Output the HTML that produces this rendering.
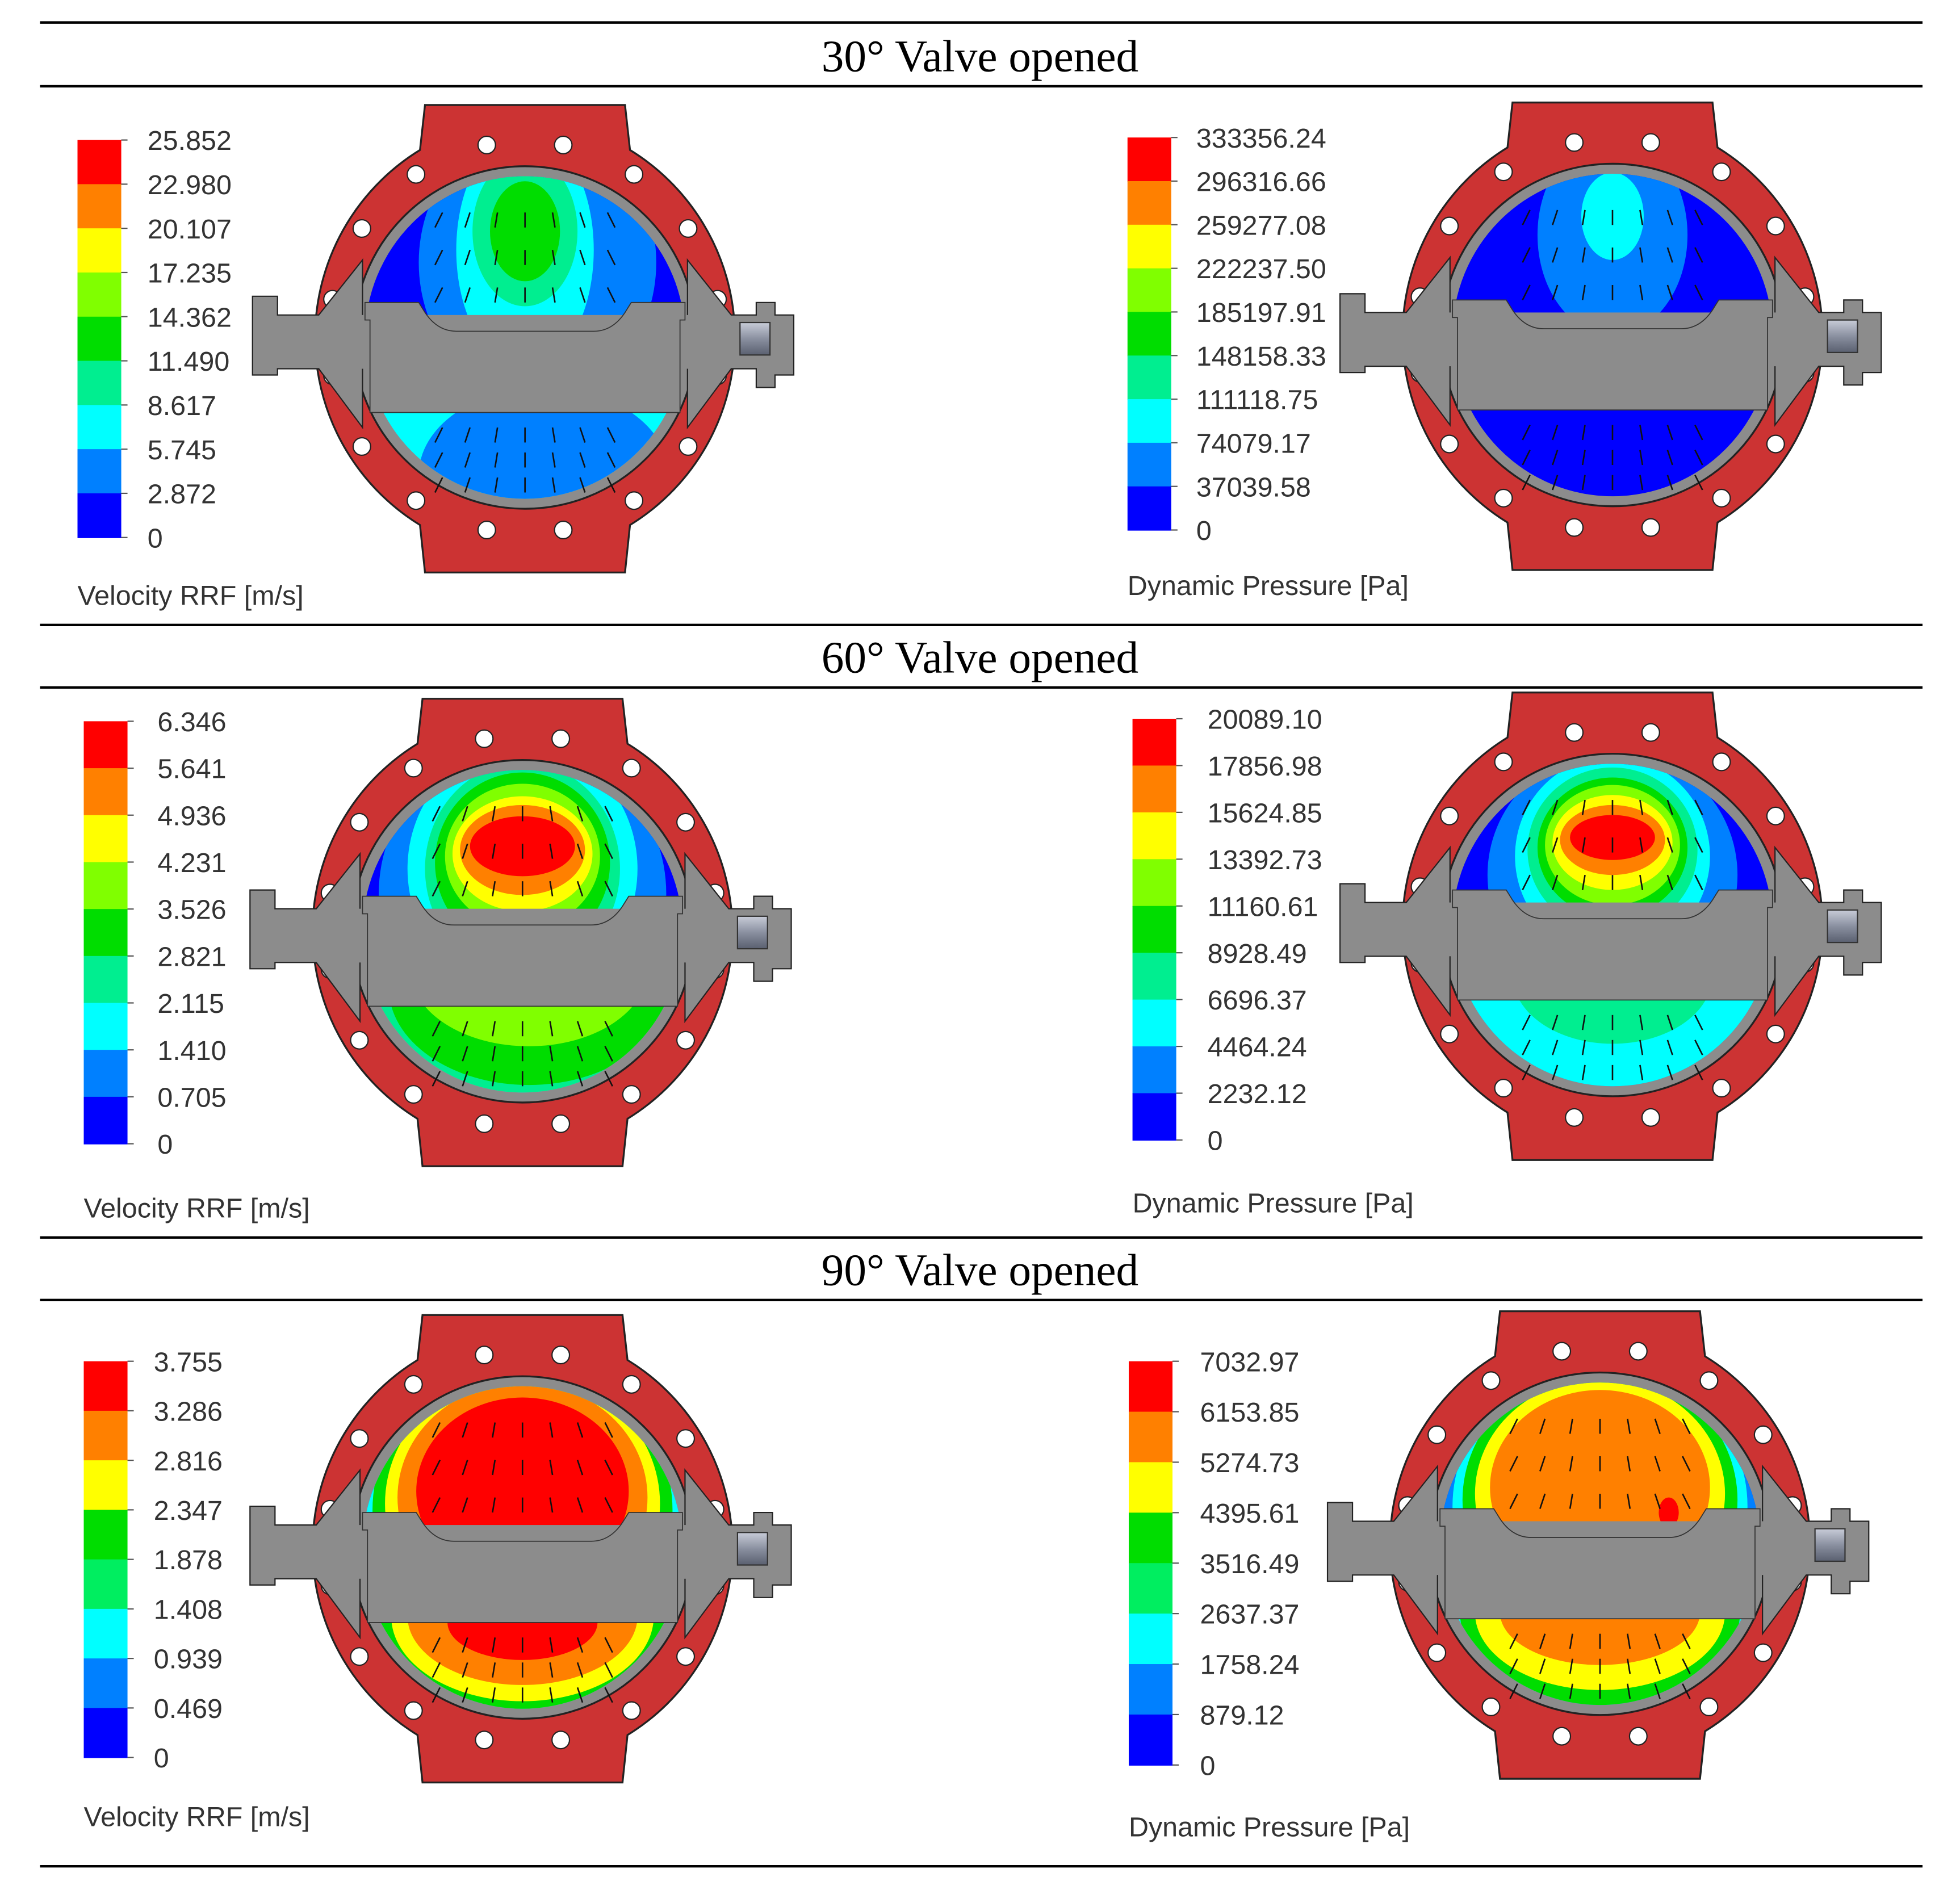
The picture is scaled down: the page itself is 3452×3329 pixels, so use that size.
<!DOCTYPE html>
<html><head><meta charset="utf-8">
<style>
html,body{margin:0;padding:0;background:#fff}
svg{display:block}
.t{font-family:"Liberation Serif",serif;font-size:36px;fill:#000}
.l{font-family:"Liberation Sans",sans-serif;font-size:22px;fill:#333}
</style></head>
<body>
<svg id="s" width="3452" height="3329" viewBox="0 0 1568 1512" preserveAspectRatio="none" xmlns="http://www.w3.org/2000/svg">
<defs>
<clipPath id="flowclip"><ellipse cx="0" cy="0" rx="128" ry="129"/></clipPath>
<clipPath id="topclip"><rect x="-140" y="-140" width="280" height="136"/></clipPath>
<clipPath id="botclip"><rect x="-140" y="58" width="280" height="90"/></clipPath>
<linearGradient id="cap" x1="0" x2="0" y1="0" y2="1"><stop offset="0" stop-color="#c8ccd8"/><stop offset="0.5" stop-color="#8a90a0"/><stop offset="1" stop-color="#5a6070"/></linearGradient>
</defs>
<g stroke="#000" stroke-width="2">
<line x1="32" y1="18" x2="1538" y2="18"/><line x1="32" y1="69" x2="1538" y2="69"/>
<line x1="32" y1="500" x2="1538" y2="500"/><line x1="32" y1="550" x2="1538" y2="550"/>
<line x1="32" y1="990" x2="1538" y2="990"/><line x1="32" y1="1040" x2="1538" y2="1040"/>
<line x1="32" y1="1493" x2="1538" y2="1493"/>
</g>
<text class="t" x="784" y="57" text-anchor="middle">30° Valve opened</text>
<text class="t" x="784" y="538" text-anchor="middle">60° Valve opened</text>
<text class="t" x="784" y="1028" text-anchor="middle">90° Valve opened</text>
</svg>
<script>
const bandColors9=["#ff0000","#ff8000","#ffff00","#80ff00","#00dd00","#00ee90","#00ffff","#0080ff","#0000ff"];
const bandColors8=["#ff0000","#ff8000","#ffff00","#00dd00","#00ee60","#00ffff","#0080ff","#0000ff"];
const v30=["25.852","22.980","20.107","17.235","14.362","11.490","8.617","5.745","2.872","0"];
const p30=["333356.24","296316.66","259277.08","222237.50","185197.91","148158.33","111118.75","74079.17","37039.58","0"];
const v60=["6.346","5.641","4.936","4.231","3.526","2.821","2.115","1.410","0.705","0"];
const p60=["20089.10","17856.98","15624.85","13392.73","11160.61","8928.49","6696.37","4464.24","2232.12","0"];
const v90=["3.755","3.286","2.816","2.347","1.878","1.408","0.939","0.469","0"];
const p90=["7032.97","6153.85","5274.73","4395.61","3516.49","2637.37","1758.24","879.12","0"];
const NS="http://www.w3.org/2000/svg";
const svg=document.getElementById('s');
function mk(tag,attrs,parent){const e=document.createElementNS(NS,tag);for(const k in attrs)e.setAttribute(k,attrs[k]);(parent||svg).appendChild(e);return e;}
const panels=[
 {name:'vel-30',labels:v30,x:62,y0:112,y1:430,lx:118,unit:'Velocity RRF [m/s]',uy:484,cx:420,cy:270,
  top:[["#0000ff",0,-60,200,120],["#0080ff",10,-60,95,110],["#00ffff",0,-70,55,95],["#00ee90",0,-85,42,60],["#00dd00",0,-85,28,40]],
  bot:[["#00ffff",0,100,200,80],["#0080ff",15,110,100,70]]},
 {name:'pres-30',labels:p30,x:902,y0:110,y1:424,lx:957,unit:'Dynamic Pressure [Pa]',uy:476,cx:1290,cy:268,
  top:[["#0000ff",0,-60,200,120],["#0080ff",0,-80,60,80],["#00ffff",0,-95,25,35]],
  bot:[["#0000ff",0,100,200,80]]},
 {name:'vel-60',labels:v60,x:67,y0:577,y1:915,lx:126,unit:'Velocity RRF [m/s]',uy:974,cx:418,cy:745,
  top:[["#0000ff",0,-20,200,160],["#0080ff",0,-30,115,120],["#00ffff",0,-50,92,100],["#00ee90",0,-50,78,85],["#00dd00",0,-55,70,72],["#80ff00",0,-60,62,58],["#ffff00",0,-62,56,46],["#ff8000",0,-65,50,36],["#ff0000",0,-68,42,24]],
  bot:[["#00ffff",0,100,200,100],["#00ee90",5,45,125,90],["#00dd00",5,45,112,78],["#80ff00",5,30,95,62]]},
 {name:'pres-60',labels:p60,x:906,y0:575,y1:912,lx:966,unit:'Dynamic Pressure [Pa]',uy:970,cx:1290,cy:740,
  top:[["#0000ff",0,-20,200,160],["#0080ff",0,-40,100,100],["#00ffff",0,-55,78,80],["#00ee90",0,-60,68,66],["#00dd00",0,-62,60,56],["#80ff00",0,-64,54,48],["#ffff00",0,-66,48,38],["#ff8000",0,-68,42,28],["#ff0000",0,-70,34,18]],
  bot:[["#0080ff",0,100,200,100],["#00ffff",0,40,120,90],["#00ee90",0,40,80,55]]},
 {name:'vel-90',labels:v90,x:67,y0:1089,y1:1406,lx:123,unit:'Velocity RRF [m/s]',uy:1461,cx:418,cy:1238,
  top:[["#0080ff",0,-20,200,160],["#00ffff",0,-30,126,125],["#00dd00",0,-30,120,118],["#ffff00",0,-35,110,105],["#ff8000",0,-40,100,92],["#ff0000",0,-45,85,75]],
  bot:[["#00ffff",0,60,200,100],["#00dd00",0,55,118,80],["#ffff00",0,55,105,68],["#ff8000",0,55,92,55],["#ff0000",0,60,60,30]]},
 {name:'pres-90',labels:p90,x:903,y0:1089,y1:1412,lx:960,unit:'Dynamic Pressure [Pa]',uy:1469,cx:1280,cy:1235,
  top:[["#0000ff",0,-20,200,160],["#0080ff",0,-25,126,122],["#00ffff",0,-30,118,115],["#00dd00",0,-35,110,105],["#ffff00",0,-40,100,92],["#ff8000",0,-45,88,78],["#ff0000",55,-25,8,12]],
  bot:[["#0080ff",0,60,200,100],["#00ffff",0,55,122,85],["#00dd00",0,55,112,75],["#ffff00",0,55,100,62],["#ff8000",0,55,80,42]]}
];
panels.forEach(p=>{
 const g=mk('g',{});
 
 
 const n=p.labels.length-1;
 const h=(p.y1-p.y0)/n;
 const cols=n===9?bandColors9:bandColors8;
 for(let i=0;i<n;i++){
  const r=mk('rect',{x:p.x,y:p.y0+i*h,width:35,height:h+0.5,fill:cols[i]},g);
  
  
 }
 p.labels.forEach((lab,i)=>{
  const y=p.y0+i*h;
  mk('line',{x1:p.x+35,y1:y,x2:p.x+40,y2:y,stroke:'#555','stroke-width':1},g);
  const t=mk('text',{x:p.lx,y:y+8,class:'l'},g);
  
  
  t.textContent=lab;
 });
 const u=mk('text',{x:p.x,y:p.uy,class:'l'},g);
 
 
 u.textContent=p.unit;
 const v=mk('g',{transform:`translate(${p.cx},${p.cy})`},g);
 
 
 mk('path',{d:'M-80,-186 L80,-186 L84,-150 A176,176 0 0 1 84,150 L80,188 L-80,188 L-84,150 A176,176 0 0 1 -84,-150 Z',fill:'#cc3333',stroke:'#222','stroke-width':1.5},v);
 for(let k=0;k<16;k++){const a=(k+0.5)/16*2*Math.PI;
  mk('circle',{cx:(157*Math.sin(a)).toFixed(1),cy:(-157*Math.cos(a)).toFixed(1),r:7,fill:'#fff',stroke:'#222','stroke-width':1},v);}
 mk('ellipse',{cx:0,cy:0,rx:137,ry:137,fill:'#8c8c8c',stroke:'#222','stroke-width':1.5},v);
 const f=mk('g',{'clip-path':'url(#flowclip)'},v);
 const ft=mk('g',{'clip-path':'url(#topclip)'},f);
 p.top.forEach(b=>mk('ellipse',{cx:b[1],cy:b[2],rx:b[3],ry:b[4],fill:b[0]},ft));
 const fb=mk('g',{'clip-path':'url(#botclip)'},f);
 p.bot.forEach(b=>mk('ellipse',{cx:b[1],cy:b[2],rx:b[3],ry:b[4],fill:b[0]},fb));
 // hubs (left & right)
 mk('path',{d:'M-218,-33 L-198,-33 L-198,-18 L-165,-18 L-130,-62 L-130,72 L-165,25 L-198,25 L-198,30 L-218,30 Z',fill:'#8c8c8c',stroke:'#222','stroke-width':1},v);
 mk('path',{d:'M130,-62 L165,-18 L185,-18 L185,-28 L200,-28 L200,-18 L215,-18 L215,30 L200,30 L200,40 L185,40 L185,25 L165,25 L130,72 Z',fill:'#8c8c8c',stroke:'#222','stroke-width':1},v);
 // shaft band across
 mk('rect',{x:-135,y:-18,width:270,height:43,fill:'#8c8c8c'},v);
 // disc
 mk('path',{d:'M-128,-14 L-128,-28 L-85,-28 L-80,-20 Q-70,-5 -55,-5 L55,-5 Q70,-5 80,-20 L85,-28 L128,-28 L128,-14 L124,-14 L124,60 L-124,60 L-124,-14 Z',fill:'#8c8c8c',stroke:'#333','stroke-width':0.8},v);
 mk('rect',{x:172,y:-12,width:24,height:26,fill:'url(#cap)',stroke:'#333','stroke-width':1},v);
 for(let ix=-3;ix<=3;ix++)for(let iy=0;iy<3;iy++){
  mk('line',{x1:ix*22,y1:-100+iy*30,x2:ix*24,y2:-88+iy*30,stroke:'#111','stroke-width':1.2},v);
  mk('line',{x1:ix*22,y1:72+iy*20,x2:ix*24,y2:84+iy*20,stroke:'#111','stroke-width':1.2},v);
 }
});
</script>
</body></html>
